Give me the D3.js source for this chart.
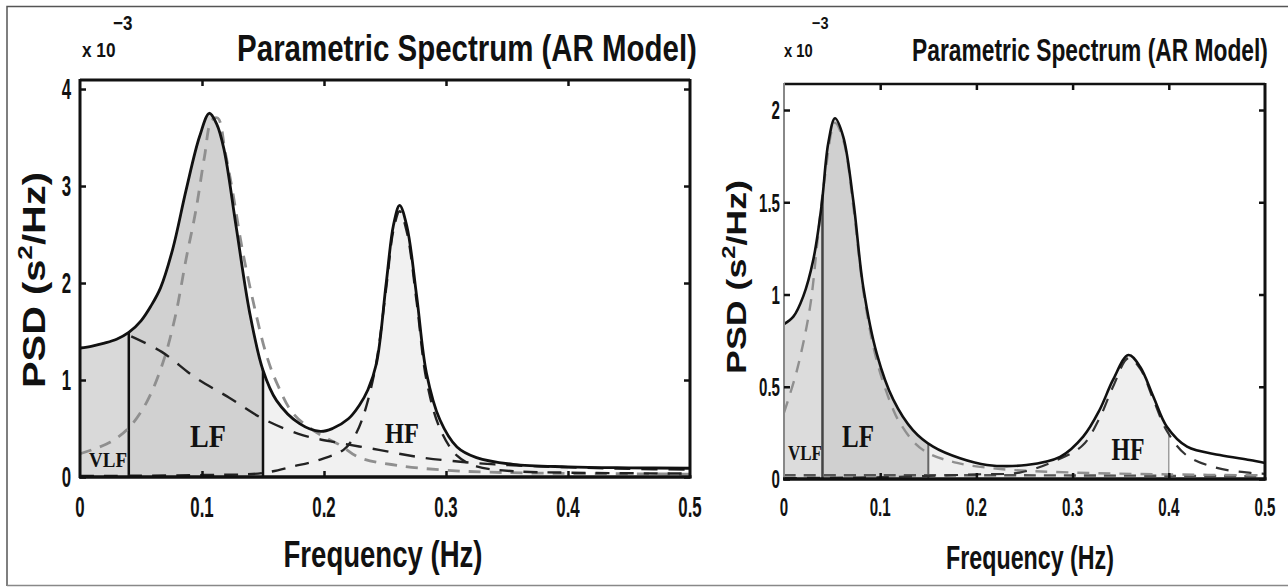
<!DOCTYPE html>
<html><head><meta charset="utf-8">
<script src="https://cdn.jsdelivr.net/npm/d3@7/dist/d3.min.js"></script>
<style>body{margin:0;background:#fff}svg{display:block}</style>
</head><body>
<svg id="c" width="1288" height="587"></svg>
<script>
// ---------- DATA (values in units of 1e-3 s^2/Hz) ----------
const freqTicks = [0, 0.1, 0.2, 0.3, 0.4, 0.5];
const freqTickLabels = ["0", "0.1", "0.2", "0.3", "0.4", "0.5"];
const leftYTicks = [0, 1, 2, 3, 4];
const leftYTickLabels = ["0", "1", "2", "3", "4"];
const rightYTicks = [0, 0.5, 1, 1.5, 2];
const rightYTickLabels = ["0", "0.5", "1", "1.5", "2"];
const bandEdges = [0.04, 0.15, 0.4];
const bandNames = ["VLF", "LF", "HF"];

// Left panel: total PSD (solid)
const leftTotal = [[0,1.33],[0.01,1.35],[0.02,1.38],[0.03,1.42],[0.04,1.49],[0.05,1.61],[0.058,1.76],[0.066,1.95],[0.076,2.35],[0.087,2.96],[0.098,3.51],[0.106,3.75],[0.112,3.64],[0.118,3.38],[0.128,2.58],[0.139,1.7],[0.15,1.1],[0.161,0.79],[0.18,0.55],[0.197,0.47],[0.207,0.5],[0.22,0.6],[0.229,0.74],[0.236,0.9],[0.243,1.17],[0.251,2.0],[0.257,2.6],[0.262,2.8],[0.268,2.58],[0.276,1.86],[0.284,1.07],[0.295,0.59],[0.309,0.31],[0.325,0.2],[0.355,0.13],[0.4,0.105],[0.45,0.095],[0.5,0.09]];
// Left panel: components (dashed)
const leftVLFcomp = [[0.042,1.45],[0.067,1.29],[0.094,1.03],[0.122,0.82],[0.15,0.6],[0.183,0.43],[0.213,0.35],[0.245,0.28],[0.275,0.21],[0.305,0.165],[0.34,0.13],[0.4,0.1],[0.45,0.085],[0.5,0.075]];
const leftLFcomp = [[0,0.24],[0.025,0.36],[0.041,0.52],[0.055,0.78],[0.068,1.18],[0.078,1.65],[0.087,2.25],[0.095,2.75],[0.102,3.3],[0.108,3.68],[0.113,3.7],[0.119,3.35],[0.125,2.95],[0.133,2.35],[0.143,1.75],[0.153,1.25],[0.162,0.95],[0.175,0.65],[0.195,0.45],[0.213,0.33],[0.229,0.2],[0.26,0.12],[0.3,0.07],[0.35,0.045],[0.5,0.03]];
const leftHFcomp = [[0,0.01],[0.1,0.02],[0.149,0.04],[0.175,0.11],[0.197,0.18],[0.216,0.28],[0.225,0.42],[0.232,0.62],[0.242,1.12],[0.251,1.95],[0.257,2.55],[0.262,2.74],[0.268,2.52],[0.276,1.8],[0.284,1.0],[0.295,0.5],[0.309,0.22],[0.325,0.11],[0.355,0.06],[0.4,0.045],[0.5,0.035]];

// Right panel: total PSD (solid)
const rightTotal = [[0,0.84],[0.0097,0.88],[0.02,0.99],[0.0305,1.19],[0.039,1.48],[0.046,1.82],[0.053,1.955],[0.0616,1.855],[0.072,1.51],[0.0824,1.04],[0.0964,0.68],[0.1136,0.43],[0.134,0.265],[0.155,0.175],[0.183,0.112],[0.211,0.076],[0.252,0.076],[0.287,0.12],[0.311,0.23],[0.328,0.374],[0.342,0.537],[0.358,0.672],[0.37,0.61],[0.384,0.446],[0.398,0.283],[0.419,0.175],[0.453,0.13],[0.484,0.103],[0.5,0.087]];
// Right panel: components (dashed)
const rightLFcomp = [[0,0.36],[0.0135,0.59],[0.027,0.93],[0.035,1.3],[0.042,1.62],[0.053,1.93],[0.062,1.83],[0.072,1.48],[0.083,1.0],[0.097,0.63],[0.114,0.37],[0.121,0.3],[0.135,0.2],[0.15,0.14],[0.18,0.087],[0.225,0.054],[0.3,0.035],[0.4,0.025],[0.5,0.02]];
const rightHFcomp = [[0,0.005],[0.1,0.01],[0.2,0.025],[0.245,0.035],[0.278,0.09],[0.31,0.18],[0.328,0.33],[0.342,0.5],[0.358,0.655],[0.37,0.6],[0.384,0.43],[0.398,0.26],[0.418,0.13],[0.45,0.06],[0.485,0.033],[0.5,0.028]];
const rightVLFcomp = [[0,0.02],[0.25,0.02],[0.5,0.015]];

// ---------- DRAW ----------
const svg = d3.select("#c");
const SANS = "'Liberation Sans', Arial, sans-serif";
const SERIF = "'Liberation Serif', 'Times New Roman', serif";

// outer frame
svg.append("path").attr("d","M7,586 L7,6.5 L1288,6.5").attr("fill","none").attr("stroke","#555").attr("stroke-width",1.5);
svg.append("line").attr("x1",7).attr("x2",1288).attr("y1",585.5).attr("y2",585.5).attr("stroke","#888").attr("stroke-width",1.5);

// text squeezed horizontally (along its own direction) to a target length
function label(g, x, y, txt, size, len, opts = {}) {
  const outer = g.append("g");
  const t = outer.append("text").attr("x", 0).attr("y", 0)
    .attr("font-family", opts.family || SANS).attr("font-weight", "bold")
    .attr("font-size", size).attr("text-anchor", opts.anchor || "middle")
    .attr("fill", opts.fill || "#111");
  if (opts.sup) {
    t.append("tspan").text(opts.sup[0]);
    t.append("tspan").text(opts.sup[1]).attr("font-size", size * 0.66).attr("dy", -size * 0.4);
    t.append("tspan").text(opts.sup[2]).attr("dy", size * 0.4);
  } else t.text(txt);
  let sx = opts.sx || 1;
  if (len) { const w = t.node().getComputedTextLength(); if (w > 0) sx = len / w; }
  outer.attr("transform", `translate(${x},${y})` + (opts.rotate ? " rotate(-90)" : "") + ` scale(${sx},1)`);
  return t;
}

function panel(cfg) {
  const g = svg.append("g");
  const x = d3.scaleLinear().domain([0, 0.5]).range(cfg.xr);
  const y = d3.scaleLinear().domain([0, cfg.ymax]).range(cfg.yr);
  const curve = d3.curveCatmullRom.alpha(0.5);
  const area = d3.area().x(d => x(d[0])).y0(y(0)).y1(d => y(d[1])).curve(curve);
  const line = d3.line().x(d => x(d[0])).y(d => y(d[1])).curve(curve);
  const id = cfg.id;

  // band fills
  const bands = [[0, bandEdges[0], cfg.fills[0]], [bandEdges[0], bandEdges[1], cfg.fills[1]], [bandEdges[1], bandEdges[2], cfg.fills[2]]];
  bands.forEach((b, i) => {
    const cp = svg.append("clipPath").attr("id", `${id}b${i}`);
    cp.append("rect").attr("x", x(b[0])).attr("width", x(b[1]) - x(b[0])).attr("y", 0).attr("height", 587);
    g.append("path").datum(cfg.total).attr("d", area).attr("fill", b[2]).attr("clip-path", `url(#${id}b${i})`);
  });
  // clip by area for vertical band lines
  const ca = svg.append("clipPath").attr("id", `${id}area`);
  ca.append("path").datum(cfg.total).attr("d", area);
  bandEdges.forEach((e, i) => {
    if (!cfg.edgeStyle[i]) return;
    g.append("line").attr("x1", x(e)).attr("x2", x(e)).attr("y1", y(0)).attr("y2", y(cfg.ymax))
      .attr("stroke", cfg.edgeStyle[i][0]).attr("stroke-width", cfg.edgeStyle[i][1])
      .attr("clip-path", `url(#${id}area)`);
  });

  // component dashed lines
  cfg.comps.forEach(c => {
    g.append("path").datum(c.data).attr("d", line).attr("fill", "none")
      .attr("stroke", c.color).attr("stroke-width", c.w).attr("stroke-dasharray", c.dash);
  });
  // total
  g.append("path").datum(cfg.total).attr("d", line).attr("fill", "none")
    .attr("stroke", "#111").attr("stroke-width", cfg.totalW);

  // band labels
  cfg.bandLabels.forEach((b, i) => {
    label(g, b[0], b[1], bandNames[i], b[2], b[3], { family: SERIF });
  });

  // frame
  const [x0, x1] = cfg.xr, [y0, y1] = cfg.yr;
  const fr = cfg.frame;
  g.append("line").attr("x1", x0).attr("x2", x1).attr("y1", y1).attr("y2", y1).attr("stroke", fr.top[0]).attr("stroke-width", fr.top[1]);
  g.append("line").attr("x1", x1).attr("x2", x1).attr("y1", y1 - 1).attr("y2", y0 + 1).attr("stroke", fr.right[0]).attr("stroke-width", fr.right[1]);
  g.append("line").attr("x1", x0).attr("x2", x0).attr("y1", y1 - 1).attr("y2", y0 + 1).attr("stroke", fr.left[0]).attr("stroke-width", fr.left[1]);
  g.append("line").attr("x1", x0 - 1).attr("x2", x1 + 1.5).attr("y1", y0).attr("y2", y0).attr("stroke", fr.bottom[0]).attr("stroke-width", fr.bottom[1]);

  // axes via d3 (inward ticks)
  const tk = 6;
  const bottomAx = d3.axisBottom(x).tickValues(freqTicks.slice(1, -1)).tickSize(-tk).tickFormat("");
  const topAx = d3.axisTop(x).tickValues(freqTicks.slice(1, -1)).tickSize(-tk).tickFormat("");
  const leftAx = d3.axisLeft(y).tickValues(cfg.yTicks).tickSize(-tk).tickFormat("");
  const rightAx = d3.axisRight(y).tickValues(cfg.yTicks).tickSize(-tk).tickFormat("");
  [[bottomAx, `translate(0,${y0})`], [topAx, `translate(0,${y1})`], [leftAx, `translate(${x0},0)`], [rightAx, `translate(${x1},0)`]]
    .forEach(([ax, tr]) => {
      const a = g.append("g").attr("transform", tr).call(ax);
      a.select(".domain").remove();
      a.selectAll(".tick line").attr("stroke", "#111").attr("stroke-width", 2.5);
    });

  // tick labels
  freqTicks.forEach((f, i) => label(g, x(f), cfg.xLabY, freqTickLabels[i], cfg.tickSize, null, { sx: cfg.tickSx }));
  cfg.yTicks.forEach((v, i) => label(g, cfg.yLabX, y(v) + cfg.tickSize * 0.36, cfg.yTickLabels[i], cfg.tickSize, null, { sx: cfg.tickSx, anchor: "end" }));

  // titles & labels
  label(g, cfg.title[0], cfg.title[1], "Parametric Spectrum (AR Model)", cfg.title[2], cfg.title[3]);
  label(g, cfg.exp[0], cfg.exp[1], "x 10", cfg.exp[2], null, { sx: 0.82, anchor: "start" });
  label(g, cfg.exp[3], cfg.exp[4], "\u22123", cfg.exp[2] * 0.95, null, { sx: 0.85, anchor: "start" });
  label(g, cfg.xl[0], cfg.xl[1], "Frequency (Hz)", cfg.xl[2], cfg.xl[3]);
  label(g, cfg.yl[0], cfg.yl[1], "", cfg.yl[2], cfg.yl[3], { rotate: true, sup: ["PSD (s", "2", "/Hz)"] });
}

panel({
  id: "L", xr: [80, 690], yr: [477, 80], ymax: 4.093,
  total: leftTotal, totalW: 2.8,
  fills: ["#d9d9d9", "#d1d1d1", "#f1f1f1"],
  edgeStyle: [["#111", 2.5], ["#111", 2.5], null],
  comps: [
    { data: leftLFcomp, color: "#8f8f8f", w: 2.8, dash: "12,9" },
    { data: leftHFcomp, color: "#222", w: 2.4, dash: "14,10" },
    { data: leftVLFcomp, color: "#222", w: 2.4, dash: "16,11" }
  ],
  bandLabels: [[108, 467, 22, 38], [208, 447, 31, 36], [402, 443, 30, 34]],
  frame: { top: ["#111", 3], right: ["#111", 3], left: ["#111", 3], bottom: ["#111", 3.5] },
  yTicks: leftYTicks, yTickLabels: leftYTickLabels,
  xLabY: 517, yLabX: 71, tickSize: 29, tickSx: 0.58,
  title: [467, 61, 36, 460], exp: [82, 57, 21, 113, 30],
  xl: [383, 567, 37, 199], yl: [45, 280, 32, 216]
});

panel({
  id: "R", xr: [784, 1265], yr: [479, 84], ymax: 2.141,
  total: rightTotal, totalW: 2.6,
  fills: ["#dcdcdc", "#d0d0d0", "#efefef"],
  edgeStyle: [["#444", 2.5], ["#666", 2], ["#888", 1.2]],
  comps: [
    { data: rightVLFcomp, color: "#555", w: 2.4, dash: "12,8" },
    { data: rightLFcomp, color: "#8f8f8f", w: 2.4, dash: "12,9" },
    { data: rightHFcomp, color: "#333", w: 2.2, dash: "13,10" }
  ],
  bandLabels: [[805, 460, 20, 34], [858, 447, 32, 32], [1128, 460, 31, 33]],
  frame: { top: ["#111", 2.5], right: ["#111", 3], left: ["#888", 2], bottom: ["#111", 3.5] },
  yTicks: rightYTicks, yTickLabels: rightYTickLabels,
  xLabY: 516, yLabX: 780, tickSize: 26, tickSx: 0.58,
  title: [1090, 61, 32, 356], exp: [784, 57, 18, 812, 29],
  xl: [1030, 569, 34, 168], yl: [746, 277, 28, 194]
});
</script>
</body></html>
